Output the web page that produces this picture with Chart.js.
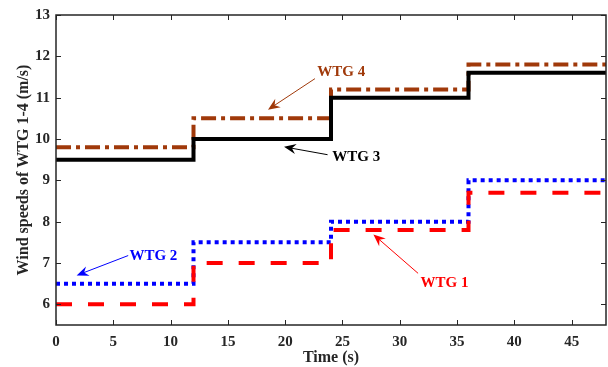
<!DOCTYPE html>
<html>
<head>
<meta charset="utf-8">
<script src="https://cdn.jsdelivr.net/npm/chart.js@4"></script>
<style>
  html, body { margin: 0; padding: 0; background: #fff; }
  #wrap { width: 608px; height: 367px; }
</style>
</head>
<body>
<div id="wrap"><canvas id="chart" width="608" height="367"></canvas></div>
<script>
// Data
const times = [0, 12, 24, 36, 48];
const wtg1 = [6.0, 7.0, 7.8, 8.7, 8.7];
const wtg2 = [6.5, 7.5, 8.0, 9.0, 9.0];
const wtg3 = [9.5, 10.0, 11.0, 11.6, 11.6];
const wtg4 = [9.8, 10.5, 11.2, 11.8, 11.8];
const seriesNames = ['WTG 1', 'WTG 2', 'WTG 3', 'WTG 4'];
const xTickLabels = [0, 5, 10, 15, 20, 25, 30, 35, 40, 45];
const yTickLabels = [6, 7, 8, 9, 10, 11, 12, 13];

// Annotations: text position and arrow (from -> tip), in data units
const notes = [
  { text: 'WTG 4', tx: 24.9, ty: 11.62, fx: 22.6, fy: 11.46, ax: 18.5, ay: 10.71, color: '#a0390a' },
  { text: 'WTG 3', tx: 26.2, ty: 9.57, fx: 23.7, fy: 9.62, ax: 19.9, ay: 9.81, color: '#000000' },
  { text: 'WTG 2', tx: 8.5, ty: 7.16, fx: 6.3, fy: 7.18, ax: 1.8, ay: 6.70, color: '#0000ff' },
  { text: 'WTG 1', tx: 33.9, ty: 6.51, fx: 31.6, fy: 6.75, ax: 27.7, ay: 7.69, color: '#ff0000' }
];

const FONT = '"Liberation Serif", "Times New Roman", serif';
const AXIS = '#262626';

function pts(vals) {
  return times.map((t, i) => ({ x: t, y: vals[i] }));
}

// Box + inward ticks on all four sides
const framePlugin = {
  id: 'frame',
  afterDatasetsDraw(chart) {
    const { ctx, chartArea: a, scales } = chart;
    ctx.save();
    ctx.strokeStyle = AXIS;
    ctx.lineWidth = 1;
    ctx.beginPath();
    xTickLabels.forEach(v => {
      const px = Math.round(scales.x.getPixelForValue(v)) + 0.5;
      ctx.moveTo(px, a.bottom); ctx.lineTo(px, a.bottom - 5);
      ctx.moveTo(px, a.top); ctx.lineTo(px, a.top + 5);
    });
    yTickLabels.forEach(v => {
      const py = Math.round(scales.y.getPixelForValue(v)) + 0.5;
      ctx.moveTo(a.left, py); ctx.lineTo(a.left + 5, py);
      ctx.moveTo(a.right, py); ctx.lineTo(a.right - 5, py);
    });
    ctx.stroke();
    ctx.lineWidth = 1.5;
    ctx.strokeRect(a.left, a.top, a.right - a.left, a.bottom - a.top);
    ctx.restore();
  }
};

// Arrow labels
const notesPlugin = {
  id: 'notes',
  afterDatasetsDraw(chart) {
    const { ctx, scales } = chart;
    ctx.save();
    notes.forEach(n => {
      const fx = scales.x.getPixelForValue(n.fx), fy = scales.y.getPixelForValue(n.fy);
      const ax = scales.x.getPixelForValue(n.ax), ay = scales.y.getPixelForValue(n.ay);
      const ang = Math.atan2(ay - fy, ax - fx);
      ctx.strokeStyle = n.color;
      ctx.fillStyle = n.color;
      ctx.lineWidth = 1;
      ctx.beginPath();
      ctx.moveTo(fx, fy);
      ctx.lineTo(ax - 6 * Math.cos(ang), ay - 6 * Math.sin(ang));
      ctx.stroke();
      // arrow head
      const L = 12, W = 5;
      ctx.beginPath();
      ctx.moveTo(ax, ay);
      ctx.lineTo(ax - L * Math.cos(ang) + W * Math.sin(ang), ay - L * Math.sin(ang) - W * Math.cos(ang));
      ctx.lineTo(ax - 8 * Math.cos(ang), ay - 8 * Math.sin(ang));
      ctx.lineTo(ax - L * Math.cos(ang) - W * Math.sin(ang), ay - L * Math.sin(ang) + W * Math.cos(ang));
      ctx.closePath();
      ctx.fill();
      ctx.font = 'bold 15px ' + FONT;
      ctx.textAlign = 'center';
      ctx.textBaseline = 'middle';
      ctx.fillText(n.text, scales.x.getPixelForValue(n.tx), scales.y.getPixelForValue(n.ty));
    });
    ctx.restore();
  }
};

const ctx = document.getElementById('chart').getContext('2d');
new Chart(ctx, {
  type: 'line',
  data: {
    datasets: [
      { label: seriesNames[0], data: pts(wtg1), borderColor: '#ff0000', borderWidth: 4, borderDash: [16, 16] },
      { label: seriesNames[1], data: pts(wtg2), borderColor: '#0000ff', borderWidth: 4, borderDash: [4, 4] },
      { label: seriesNames[2], data: pts(wtg3), borderColor: '#000000', borderWidth: 4 },
      { label: seriesNames[3], data: pts(wtg4), borderColor: '#a0390a', borderWidth: 4, borderDash: [15, 5, 4, 5] }
    ].map(d => Object.assign(d, { stepped: 'before', pointRadius: 0, fill: false, tension: 0 }))
  },
  options: {
    responsive: false,
    animation: false,
    events: [],
    layout: { padding: { top: 15, right: 2, left: 0, bottom: 0 } },
    plugins: { legend: { display: false }, tooltip: { enabled: false } },
    scales: {
      x: {
        type: 'linear',
        min: 0, max: 48,
        afterFit(s) { s.height = 42; },
        afterBuildTicks(s) { s.ticks = xTickLabels.map(v => ({ value: v })); },
        grid: { display: false, drawTicks: false },
        border: { display: false },
        ticks: { color: AXIS, padding: 8, font: { family: FONT, size: 15, weight: 'bold' } },
        title: { display: true, text: 'Time (s)', color: AXIS, padding: { top: 3, bottom: 0 }, font: { family: FONT, size: 16, weight: 'bold' } }
      },
      y: {
        min: 5.5, max: 13,
        afterFit(s) { s.width = 56; },
        afterBuildTicks(s) { s.ticks = yTickLabels.map(v => ({ value: v })); },
        grid: { display: false, drawTicks: false },
        border: { display: false },
        ticks: { color: AXIS, padding: 6, font: { family: FONT, size: 15, weight: 'bold' } },
        title: { display: true, text: 'Wind speeds of WTG 1-4 (m/s)', color: AXIS, padding: { top: 14, bottom: 0 }, font: { family: FONT, size: 16, weight: 'bold' } }
      }
    }
  },
  plugins: [framePlugin, notesPlugin]
});
</script>
</body>
</html>
